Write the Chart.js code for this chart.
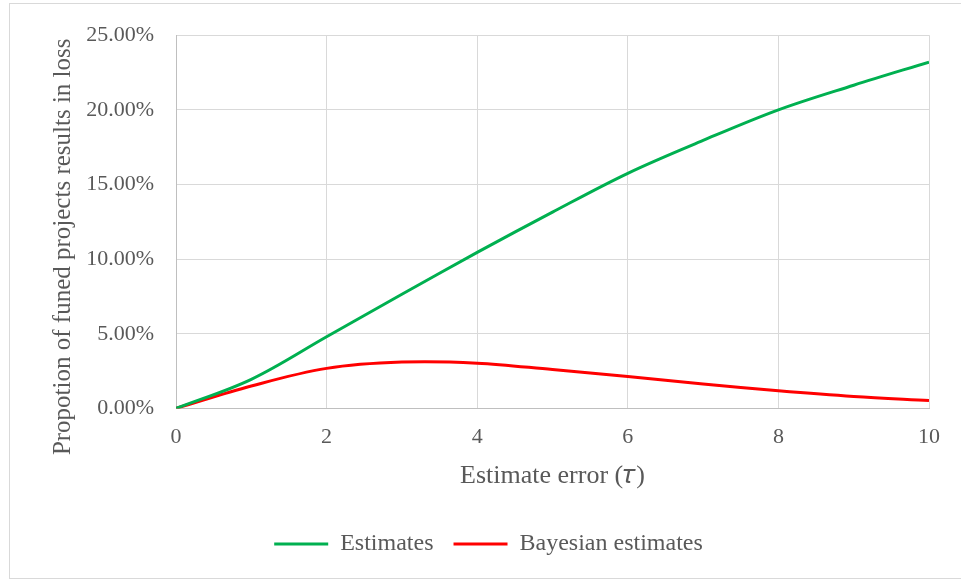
<!DOCTYPE html>
<html>
<head>
<meta charset="utf-8">
<script src="https://cdn.jsdelivr.net/npm/chart.js@4/dist/chart.umd.min.js"></script>
<style>
    body { margin: 0; background: #ffffff; }
    #wrap { position: relative; width: 961px; height: 580px; overflow: hidden; }
    #frame {
        position: absolute; left: 9px; top: 3px; width: 1000px; height: 574px;
        border-left: 1px solid #d9d9d9; border-top: 1px solid #d9d9d9; border-bottom: 1px solid #d9d9d9;
    }
    canvas { position: absolute; left: 0; top: 0; }
</style>
</head>
<body>
<div id="wrap">
    <div id="frame"></div>
    <canvas id="chart" width="961" height="580"></canvas>
</div>
<script>
// Estimate error (tau) on the x axis
const tauValues = [0, 1, 2, 3, 4, 5, 6, 7, 8, 9, 10];

// Proportion of funded projects that result in loss, in percent
const estimates = [0, 1.95, 4.8, 7.65, 10.45, 13.15, 15.75, 17.95, 20.0, 21.65, 23.2];
const bayesianEstimates = [0, 1.5, 2.68, 3.1, 3.03, 2.6, 2.14, 1.63, 1.18, 0.8, 0.53];

const seriesNames = ['Estimates', 'Bayesian estimates'];
const xTitle = 'Estimate error (\uD835\uDF0F)';
// trailing spaces push the rotated title a little lower, like the original
const yTitle = 'Propotion of funed projects results in loss        ';

const textColor = '#595959';
const fontFamily = '"Liberation Serif", "Times New Roman", serif';

function toPoints(values) {
    return tauValues.map((t, i) => ({ x: t, y: values[i] }));
}

const ctx = document.getElementById('chart').getContext('2d');
new Chart(ctx, {
    type: 'line',
    data: {
        datasets: [
            {
                label: seriesNames[0],
                data: toPoints(estimates),
                borderColor: '#00b050',
                backgroundColor: '#00b050',
                borderWidth: 3,
                pointRadius: 0,
                tension: 0.35
            },
            {
                label: seriesNames[1],
                data: toPoints(bayesianEstimates),
                borderColor: '#ff0000',
                backgroundColor: '#ff0000',
                borderWidth: 3,
                pointRadius: 0,
                tension: 0.35
            }
        ]
    },
    options: {
        responsive: false,
        animation: false,
        layout: { padding: { left: 48, right: 32, top: 20, bottom: 14 } },
        plugins: {
            tooltip: { enabled: false },
            legend: {
                position: 'bottom',
                labels: {
                    usePointStyle: true,
                    pointStyle: 'line',
                    pointStyleWidth: 54,
                    boxHeight: 24,
                    padding: 20,
                    color: textColor,
                    font: { family: fontFamily, size: 24 }
                }
            }
        },
        scales: {
            x: {
                type: 'linear',
                min: 0,
                max: 10,
                ticks: {
                    stepSize: 2,
                    padding: 16,
                    color: textColor,
                    font: { family: fontFamily, size: 22 }
                },
                grid: { color: '#d9d9d9', drawTicks: false },
                border: { color: '#bfbfbf' },
                title: {
                    display: true,
                    text: xTitle,
                    color: textColor,
                    font: { family: fontFamily, size: 26 },
                    padding: { top: -6, bottom: 20 }
                }
            },
            y: {
                min: 0,
                max: 25,
                ticks: {
                    stepSize: 5,
                    padding: 22,
                    color: textColor,
                    font: { family: fontFamily, size: 22 },
                    callback: v => v.toFixed(2) + '%'
                },
                grid: { color: '#d9d9d9', drawTicks: false },
                border: { color: '#bfbfbf' },
                title: {
                    display: true,
                    text: yTitle,
                    color: textColor,
                    font: { family: fontFamily, size: 25 },
                    padding: { top: 0, bottom: 8 }
                },
                afterFit: scale => { scale.width = 128; }
            }
        }
    }
});
</script>
</body>
</html>
